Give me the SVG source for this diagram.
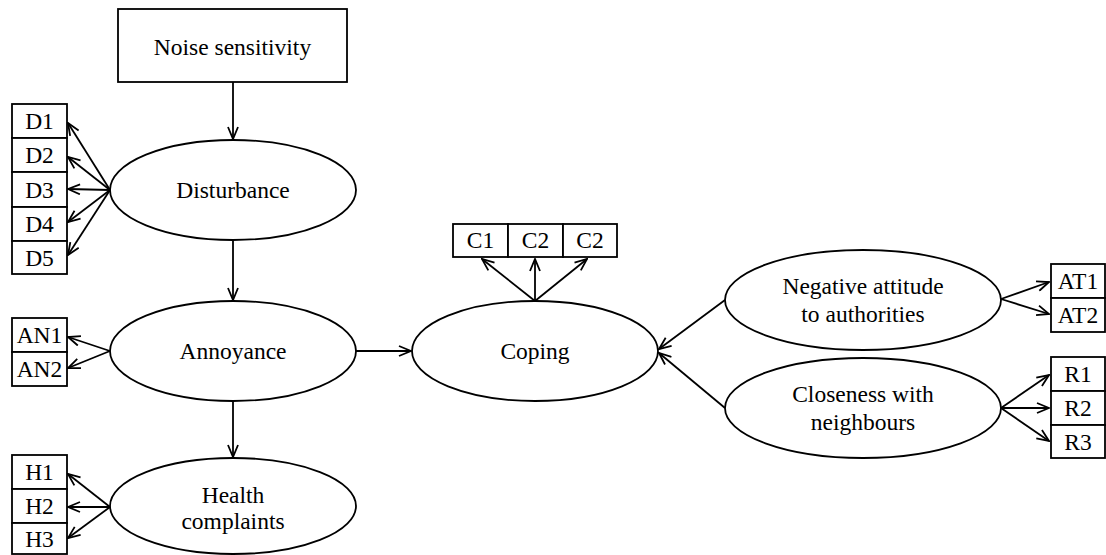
<svg xmlns="http://www.w3.org/2000/svg" width="1106" height="555" viewBox="0 0 1106 555">
<style>
.s{fill:#fff;stroke:#000;stroke-width:1.8}
text{font-family:"Liberation Serif","Times New Roman",serif;font-size:23.5px;fill:#000;text-anchor:middle}
.c line{stroke:#000;stroke-width:1.8;marker-end:url(#a)}
</style>
<defs>
<marker id="a" viewBox="0 0 14 12" refX="13" refY="6" markerWidth="14" markerHeight="12" markerUnits="userSpaceOnUse" orient="auto">
<path d="M1,1 L13,6 L1,11" fill="none" stroke="#000" stroke-width="1.8"/>
</marker>
</defs>
<g id="noise"><rect class="s" x="118" y="9" width="229" height="73"/><text x="232.5" y="55">Noise sensitivity</text></g>
<g id="disturbance"><ellipse class="s" cx="233" cy="190" rx="123" ry="50"/><text x="233" y="198">Disturbance</text></g>
<g id="annoyance"><ellipse class="s" cx="233" cy="351" rx="123" ry="50"/><text x="233" y="359">Annoyance</text></g>
<g id="health"><ellipse class="s" cx="233" cy="506" rx="123" ry="48"/><text x="233" y="503">Health</text><text x="233" y="529">complaints</text></g>
<g id="coping"><ellipse class="s" cx="535" cy="351" rx="123" ry="50"/><text x="535" y="359">Coping</text></g>
<g id="negative"><ellipse class="s" cx="863" cy="300" rx="138" ry="50"/><text x="863" y="294">Negative attitude</text><text x="863" y="322">to authorities</text></g>
<g id="closeness"><ellipse class="s" cx="863" cy="408" rx="138" ry="50"/><text x="863" y="402">Closeness with</text><text x="863" y="430">neighbours</text></g>
<g id="D1"><rect class="s" x="12" y="104" width="55" height="34"/><text x="39.5" y="129">D1</text></g>
<g id="D2"><rect class="s" x="12" y="138" width="55" height="34"/><text x="39.5" y="163">D2</text></g>
<g id="D3"><rect class="s" x="12" y="172" width="55" height="35"/><text x="39.5" y="198">D3</text></g>
<g id="D4"><rect class="s" x="12" y="207" width="55" height="34"/><text x="39.5" y="232">D4</text></g>
<g id="D5"><rect class="s" x="12" y="241" width="55" height="33"/><text x="39.5" y="266">D5</text></g>
<g id="AN1"><rect class="s" x="12" y="318" width="55" height="34"/><text x="39.5" y="343">AN1</text></g>
<g id="AN2"><rect class="s" x="12" y="352" width="55" height="34"/><text x="39.5" y="377">AN2</text></g>
<g id="H1"><rect class="s" x="12" y="455" width="55" height="34"/><text x="39.5" y="480">H1</text></g>
<g id="H2"><rect class="s" x="12" y="489" width="55" height="34"/><text x="39.5" y="514">H2</text></g>
<g id="H3"><rect class="s" x="12" y="523" width="55" height="31"/><text x="39.5" y="547">H3</text></g>
<g id="C1"><rect class="s" x="453" y="224" width="55" height="33"/><text x="480.5" y="248">C1</text></g>
<g id="C2a"><rect class="s" x="508" y="224" width="55" height="33"/><text x="535.5" y="248">C2</text></g>
<g id="C2b"><rect class="s" x="563" y="224" width="54" height="33"/><text x="590" y="248">C2</text></g>
<g id="AT1"><rect class="s" x="1051" y="264" width="54" height="34"/><text x="1078" y="289">AT1</text></g>
<g id="AT2"><rect class="s" x="1051" y="298" width="54" height="34"/><text x="1078" y="323">AT2</text></g>
<g id="R1"><rect class="s" x="1051" y="357" width="54" height="34"/><text x="1078" y="382">R1</text></g>
<g id="R2"><rect class="s" x="1051" y="391" width="54" height="34"/><text x="1078" y="416">R2</text></g>
<g id="R3"><rect class="s" x="1051" y="425" width="54" height="33"/><text x="1078" y="450">R3</text></g>
<g class="c" id="connectors">
<line x1="233" y1="82" x2="233" y2="139"/>
<line x1="233" y1="240" x2="233" y2="300"/>
<line x1="233" y1="401" x2="233" y2="457"/>
<line x1="110" y1="190" x2="68" y2="123"/>
<line x1="110" y1="190" x2="68" y2="157"/>
<line x1="110" y1="190" x2="68" y2="189"/>
<line x1="110" y1="190" x2="68" y2="222"/>
<line x1="110" y1="190" x2="68" y2="255"/>
<line x1="110" y1="351" x2="68" y2="337"/>
<line x1="110" y1="351" x2="68" y2="368"/>
<line x1="110" y1="507" x2="68" y2="474"/>
<line x1="110" y1="507" x2="68" y2="507"/>
<line x1="110" y1="507" x2="68" y2="538"/>
<line x1="356" y1="351" x2="411" y2="351"/>
<line x1="535" y1="301" x2="482" y2="259"/>
<line x1="535" y1="301" x2="535" y2="259"/>
<line x1="535" y1="301" x2="587" y2="259"/>
<line x1="725" y1="300" x2="659" y2="349"/>
<line x1="725" y1="408" x2="659" y2="353"/>
<line x1="1001" y1="299" x2="1049" y2="282"/>
<line x1="1001" y1="299" x2="1049" y2="314"/>
<line x1="1001" y1="408" x2="1049" y2="375"/>
<line x1="1001" y1="408" x2="1049" y2="408"/>
<line x1="1001" y1="408" x2="1049" y2="441"/>
</g>
</svg>
